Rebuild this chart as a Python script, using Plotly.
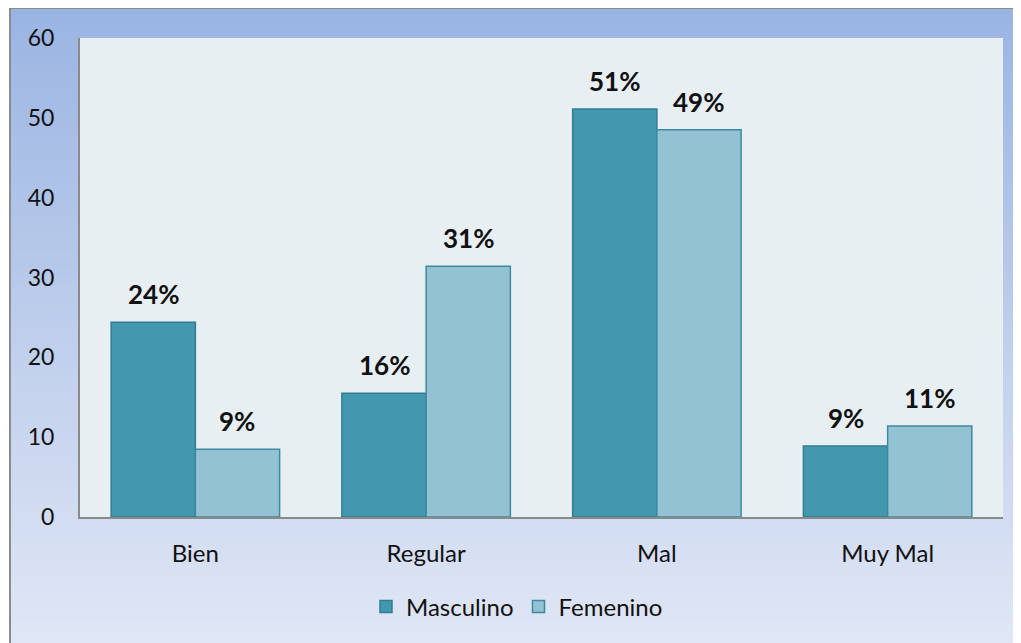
import plotly.graph_objects as go

categories = ["Bien", "Regular", "Mal", "Muy Mal"]
masculino = [24.4, 15.5, 51.1, 8.9]
femenino = [8.5, 31.4, 48.5, 11.4]
masc_labels = ["24%", "16%", "51%", "9%"]
fem_labels = ["9%", "31%", "49%", "11%"]
y_ticks = [0, 10, 20, 30, 40, 50, 60]

OFF = 8  # page body margin
W, H = 1021 - OFF, 643 - OFF
L, R, T, B = 80 - OFF, 18, 38 - OFF, 643 - 517
pw, ph = W - L - R, H - T - B

def px_x(p):
    return (p - OFF - L) / pw

def px_y(p):
    return (H - B - (p - OFF)) / ph

FONT = "Lato, 'Open Sans', sans-serif"

fig = go.Figure()
fig.add_trace(go.Bar(
    name="Masculino", x=categories, y=masculino,
    marker=dict(color="#4397AE", line=dict(color="#317E92", width=1.5)),
))
fig.add_trace(go.Bar(
    name="Femenino", x=categories, y=femenino,
    marker=dict(color="#93C3D3", line=dict(color="#3D8AA0", width=1.5)),
))

annotations = []
for c, v, t in zip(categories, masculino, masc_labels):
    annotations.append(dict(x=c, y=v, text=t, showarrow=False, xshift=-42, yshift=28,
                            font=dict(family=FONT, size=26, color="#111111", weight="bold")))
for c, v, t in zip(categories, femenino, fem_labels):
    annotations.append(dict(x=c, y=v, text=t, showarrow=False, xshift=42, yshift=28,
                            font=dict(family=FONT, size=26, color="#111111", weight="bold")))

# gradient background bands
shapes = []
top_c = (154, 180, 226)
bot_c = (226, 232, 246)
y0p, y1p = 7, 660
n = 80
for i in range(n):
    a = y0p + (y1p - y0p) * i / n
    b = y0p + (y1p - y0p) * (i + 1) / n
    f = (i + 0.5) / n
    col = tuple(round(top_c[k] + (bot_c[k] - top_c[k]) * f) for k in range(3))
    shapes.append(dict(type="rect", xref="paper", yref="paper",
                       x0=px_x(10), x1=px_x(1040), y0=px_y(b) - 0.002, y1=px_y(a),
                       fillcolor="rgb(%d,%d,%d)" % col, line=dict(width=0), layer="below"))
# frame
shapes.append(dict(type="rect", xref="paper", yref="paper",
                   x0=px_x(10), x1=px_x(1040), y0=px_y(660), y1=px_y(8),
                   fillcolor="rgba(0,0,0,0)", line=dict(color="#8C8C8C", width=2), layer="below"))
# plot area background
shapes.append(dict(type="rect", xref="paper", yref="paper", x0=0, x1=1, y0=0, y1=1,
                   fillcolor="#E8EFF3", line=dict(width=0), layer="below"))

fig.update_layout(
    width=W, height=H,
    margin=dict(l=L, r=R, t=T, b=B),
    paper_bgcolor="white",
    plot_bgcolor="#E8EFF3",
    barmode="group", bargap=0.27, bargroupgap=0,
    font=dict(family=FONT, size=24, color="#111111"),
    showlegend=True,
    legend=dict(orientation="h", x=px_x(517), xanchor="center", y=px_y(607), yanchor="middle",
                font=dict(family=FONT, size=24, color="#111111"), bgcolor="rgba(0,0,0,0)",
                itemwidth=30, traceorder="normal"),
    annotations=annotations,
    shapes=shapes,
    xaxis=dict(showline=True, linecolor="#8A8A8A", linewidth=2, showgrid=False,
               ticks="", ticklabelstandoff=14, tickfont=dict(family=FONT, size=24)),
    yaxis=dict(range=[0, 60], tickvals=y_ticks, showline=True, linecolor="#8A8A8A", linewidth=2,
               showgrid=False, zeroline=False, ticks="", ticklabelstandoff=19,
               tickfont=dict(family=FONT, size=23)),
)

fig.write_html("out.html")
